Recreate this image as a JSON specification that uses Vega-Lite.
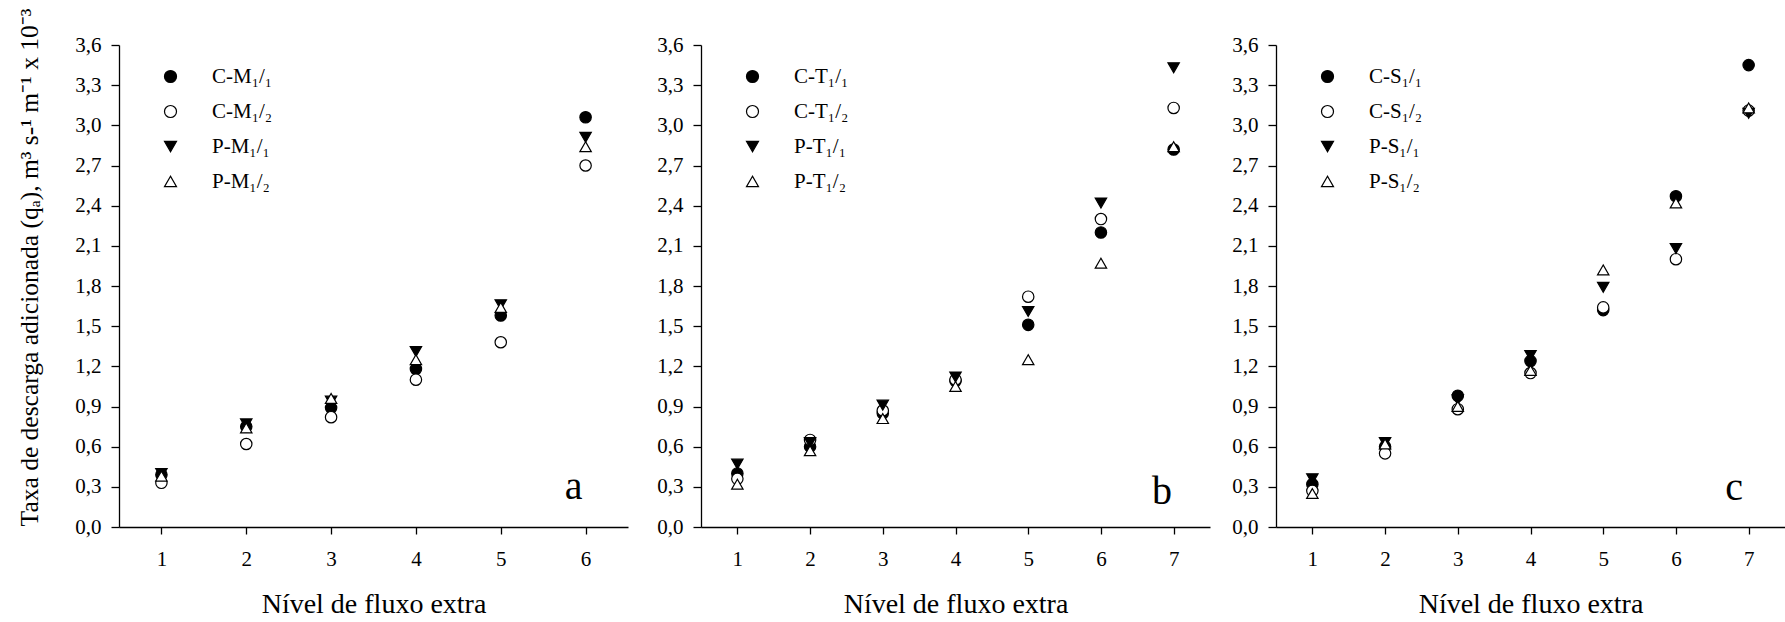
{
  "$schema": "https://vega.github.io/schema/vega-lite/v6.json",
  "background": "white",
  "autosize": {"type": "pad"},
  "padding": {"left": 16, "top": 8, "right": 0, "bottom": 0},
  "config": {
    "view": {"stroke": null},
    "font": "Liberation Serif",
    "axis": {
      "grid": false,
      "domainColor": "black",
      "domainWidth": 1.3,
      "tickColor": "black",
      "tickWidth": 1.3,
      "labelColor": "black",
      "titleColor": "black",
      "labelFont": "Liberation Serif",
      "titleFont": "Liberation Serif",
      "titleFontWeight": "normal",
      "labelFontSize": 21
    },
    "legend": {
      "labelFont": "Liberation Serif",
      "labelColor": "black"
    }
  },
  "datasets": {
    "a": [
      {"nivel": 1, "serie": "C-M₁/₁", "qa": 0.39},
      {"nivel": 2, "serie": "C-M₁/₁", "qa": 0.75},
      {"nivel": 3, "serie": "C-M₁/₁", "qa": 0.89},
      {"nivel": 4, "serie": "C-M₁/₁", "qa": 1.18},
      {"nivel": 5, "serie": "C-M₁/₁", "qa": 1.58},
      {"nivel": 6, "serie": "C-M₁/₁", "qa": 3.06},
      {"nivel": 1, "serie": "C-M₁/₂", "qa": 0.33},
      {"nivel": 2, "serie": "C-M₁/₂", "qa": 0.62},
      {"nivel": 3, "serie": "C-M₁/₂", "qa": 0.82},
      {"nivel": 4, "serie": "C-M₁/₂", "qa": 1.10},
      {"nivel": 5, "serie": "C-M₁/₂", "qa": 1.38},
      {"nivel": 6, "serie": "C-M₁/₂", "qa": 2.70},
      {"nivel": 1, "serie": "P-M₁/₁", "qa": 0.40},
      {"nivel": 2, "serie": "P-M₁/₁", "qa": 0.77},
      {"nivel": 3, "serie": "P-M₁/₁", "qa": 0.94},
      {"nivel": 4, "serie": "P-M₁/₁", "qa": 1.31},
      {"nivel": 5, "serie": "P-M₁/₁", "qa": 1.66},
      {"nivel": 6, "serie": "P-M₁/₁", "qa": 2.91},
      {"nivel": 1, "serie": "P-M₁/₂", "qa": 0.38},
      {"nivel": 2, "serie": "P-M₁/₂", "qa": 0.74},
      {"nivel": 3, "serie": "P-M₁/₂", "qa": 0.96},
      {"nivel": 4, "serie": "P-M₁/₂", "qa": 1.25},
      {"nivel": 5, "serie": "P-M₁/₂", "qa": 1.64},
      {"nivel": 6, "serie": "P-M₁/₂", "qa": 2.84}
    ],
    "b": [
      {"nivel": 1, "serie": "C-T₁/₁", "qa": 0.40},
      {"nivel": 2, "serie": "C-T₁/₁", "qa": 0.60},
      {"nivel": 3, "serie": "C-T₁/₁", "qa": 0.85},
      {"nivel": 4, "serie": "C-T₁/₁", "qa": 1.09},
      {"nivel": 5, "serie": "C-T₁/₁", "qa": 1.51},
      {"nivel": 6, "serie": "C-T₁/₁", "qa": 2.20},
      {"nivel": 7, "serie": "C-T₁/₁", "qa": 2.82},
      {"nivel": 1, "serie": "C-T₁/₂", "qa": 0.36},
      {"nivel": 2, "serie": "C-T₁/₂", "qa": 0.65},
      {"nivel": 3, "serie": "C-T₁/₂", "qa": 0.87},
      {"nivel": 4, "serie": "C-T₁/₂", "qa": 1.10},
      {"nivel": 5, "serie": "C-T₁/₂", "qa": 1.72},
      {"nivel": 6, "serie": "C-T₁/₂", "qa": 2.30},
      {"nivel": 7, "serie": "C-T₁/₂", "qa": 3.13},
      {"nivel": 1, "serie": "P-T₁/₁", "qa": 0.47},
      {"nivel": 2, "serie": "P-T₁/₁", "qa": 0.63},
      {"nivel": 3, "serie": "P-T₁/₁", "qa": 0.91},
      {"nivel": 4, "serie": "P-T₁/₁", "qa": 1.12},
      {"nivel": 5, "serie": "P-T₁/₁", "qa": 1.61},
      {"nivel": 6, "serie": "P-T₁/₁", "qa": 2.42},
      {"nivel": 7, "serie": "P-T₁/₁", "qa": 3.43},
      {"nivel": 1, "serie": "P-T₁/₂", "qa": 0.32},
      {"nivel": 2, "serie": "P-T₁/₂", "qa": 0.57},
      {"nivel": 3, "serie": "P-T₁/₂", "qa": 0.81},
      {"nivel": 4, "serie": "P-T₁/₂", "qa": 1.05},
      {"nivel": 5, "serie": "P-T₁/₂", "qa": 1.25},
      {"nivel": 6, "serie": "P-T₁/₂", "qa": 1.97},
      {"nivel": 7, "serie": "P-T₁/₂", "qa": 2.84}
    ],
    "c": [
      {"nivel": 1, "serie": "C-S₁/₁", "qa": 0.32},
      {"nivel": 2, "serie": "C-S₁/₁", "qa": 0.60},
      {"nivel": 3, "serie": "C-S₁/₁", "qa": 0.98},
      {"nivel": 4, "serie": "C-S₁/₁", "qa": 1.24},
      {"nivel": 5, "serie": "C-S₁/₁", "qa": 1.62},
      {"nivel": 6, "serie": "C-S₁/₁", "qa": 2.47},
      {"nivel": 7, "serie": "C-S₁/₁", "qa": 3.45},
      {"nivel": 1, "serie": "C-S₁/₂", "qa": 0.27},
      {"nivel": 2, "serie": "C-S₁/₂", "qa": 0.55},
      {"nivel": 3, "serie": "C-S₁/₂", "qa": 0.88},
      {"nivel": 4, "serie": "C-S₁/₂", "qa": 1.15},
      {"nivel": 5, "serie": "C-S₁/₂", "qa": 1.64},
      {"nivel": 6, "serie": "C-S₁/₂", "qa": 2.00},
      {"nivel": 7, "serie": "C-S₁/₂", "qa": 3.11},
      {"nivel": 1, "serie": "P-S₁/₁", "qa": 0.36},
      {"nivel": 2, "serie": "P-S₁/₁", "qa": 0.63},
      {"nivel": 3, "serie": "P-S₁/₁", "qa": 0.95},
      {"nivel": 4, "serie": "P-S₁/₁", "qa": 1.28},
      {"nivel": 5, "serie": "P-S₁/₁", "qa": 1.79},
      {"nivel": 6, "serie": "P-S₁/₁", "qa": 2.08},
      {"nivel": 7, "serie": "P-S₁/₁", "qa": 3.09},
      {"nivel": 1, "serie": "P-S₁/₂", "qa": 0.25},
      {"nivel": 2, "serie": "P-S₁/₂", "qa": 0.62},
      {"nivel": 3, "serie": "P-S₁/₂", "qa": 0.90},
      {"nivel": 4, "serie": "P-S₁/₂", "qa": 1.17},
      {"nivel": 5, "serie": "P-S₁/₂", "qa": 1.92},
      {"nivel": 6, "serie": "P-S₁/₂", "qa": 2.42},
      {"nivel": 7, "serie": "P-S₁/₂", "qa": 3.13}
    ]
  },
  "resolve": {
    "scale": {"x": "independent", "y": "independent", "shape": "independent", "fill": "independent", "stroke": "independent"},
    "legend": {"shape": "independent", "fill": "independent", "stroke": "independent"}
  },
  "spacing": 28,
  "hconcat": [
    {
      "width": 509,
      "height": 482,
      "layer": [
        {
          "data": {"name": "a"},
          "mark": {"type": "point", "filled": true, "size": 130, "strokeWidth": 1.2, "opacity": 1},
          "encoding": {
            "x": {"field": "nivel", "type": "quantitative", "scale": {"domain": [0.5, 6.5], "nice": false, "zero": false},
              "axis": {"values": [1, 2, 3, 4, 5, 6], "format": "d", "tickSize": 7, "labelPadding": 31, "labelBaseline": "alphabetic", "title": "Nível de fluxo extra", "titleFontSize": 28, "titleBaseline": "alphabetic", "titleY": 85}},
            "y": {"field": "qa", "type": "quantitative", "scale": {"domain": [0, 3.6], "nice": false},
              "axis": {"values": [0, 0.3, 0.6, 0.9, 1.2, 1.5, 1.8, 2.1, 2.4, 2.7, 3.0, 3.3, 3.6], "labelExpr": "replace(format(datum.value, '.1f'), '.', ',')", "tickSize": 8, "labelPadding": 10, "title": "Taxa de descarga adicionada (qₐ), m³ s-¹ m⁻¹ x 10⁻³", "titleFontSize": 25.5, "titleBaseline": "alphabetic", "titleAlign": "center", "titleX": -82, "titleY": 222}},
            "shape": {"field": "serie", "type": "nominal", "scale": {"domain": ["C-M₁/₁", "C-M₁/₂", "P-M₁/₁", "P-M₁/₂"], "range": ["circle", "circle", "triangle-down", "triangle-up"]},
              "legend": {"orient": "none", "legendX": 41, "legendY": 21, "title": null, "padding": 0, "symbolSize": 144, "labelFontSize": 21, "labelOffset": 31, "rowPadding": 13, "symbolStrokeWidth": 1.2}},
            "fill": {"field": "serie", "type": "nominal", "scale": {"domain": ["C-M₁/₁", "C-M₁/₂", "P-M₁/₁", "P-M₁/₂"], "range": ["black", "white", "black", "white"]},
              "legend": {"orient": "none", "legendX": 41, "legendY": 21, "title": null, "padding": 0, "symbolSize": 144, "labelFontSize": 21, "labelOffset": 31, "rowPadding": 13, "symbolStrokeWidth": 1.2}},
            "stroke": {"field": "serie", "type": "nominal", "scale": {"domain": ["C-M₁/₁", "C-M₁/₂", "P-M₁/₁", "P-M₁/₂"], "range": ["black", "black", "black", "black"]},
              "legend": {"orient": "none", "legendX": 41, "legendY": 21, "title": null, "padding": 0, "symbolSize": 144, "labelFontSize": 21, "labelOffset": 31, "rowPadding": 13, "symbolStrokeWidth": 1.2}}
          }
        },
        {
          "data": {"values": [{"letra": "a"}]},
          "mark": {"type": "text", "fontSize": 40, "fontWeight": "normal", "font": "Liberation Serif", "align": "center", "baseline": "alphabetic", "fill": "black"},
          "encoding": {
            "text": {"field": "letra", "type": "nominal"},
            "x": {"datum": 5.86, "type": "quantitative"},
            "y": {"datum": 0.21, "type": "quantitative"}
          }
        }
      ]
    },
    {
      "spacing": 21,
      "resolve": {
        "scale": {"x": "independent", "y": "independent", "shape": "independent", "fill": "independent", "stroke": "independent"},
        "legend": {"shape": "independent", "fill": "independent", "stroke": "independent"}
      },
      "hconcat": [
        {
          "width": 509,
          "height": 482,
          "layer": [
            {
              "data": {"name": "b"},
              "mark": {"type": "point", "filled": true, "size": 130, "strokeWidth": 1.2, "opacity": 1},
              "encoding": {
                "x": {"field": "nivel", "type": "quantitative", "scale": {"domain": [0.5, 7.5], "nice": false, "zero": false},
                  "axis": {"values": [1, 2, 3, 4, 5, 6, 7], "format": "d", "tickSize": 7, "labelPadding": 31, "labelBaseline": "alphabetic", "title": "Nível de fluxo extra", "titleFontSize": 28, "titleBaseline": "alphabetic", "titleY": 85}},
                "y": {"field": "qa", "type": "quantitative", "scale": {"domain": [0, 3.6], "nice": false},
                  "axis": {"values": [0, 0.3, 0.6, 0.9, 1.2, 1.5, 1.8, 2.1, 2.4, 2.7, 3.0, 3.3, 3.6], "labelExpr": "replace(format(datum.value, '.1f'), '.', ',')", "tickSize": 8, "labelPadding": 10, "title": null}},
                "shape": {"field": "serie", "type": "nominal", "scale": {"domain": ["C-T₁/₁", "C-T₁/₂", "P-T₁/₁", "P-T₁/₂"], "range": ["circle", "circle", "triangle-down", "triangle-up"]},
                  "legend": {"orient": "none", "legendX": 41, "legendY": 21, "title": null, "padding": 0, "symbolSize": 144, "labelFontSize": 21, "labelOffset": 31, "rowPadding": 13, "symbolStrokeWidth": 1.2}},
                "fill": {"field": "serie", "type": "nominal", "scale": {"domain": ["C-T₁/₁", "C-T₁/₂", "P-T₁/₁", "P-T₁/₂"], "range": ["black", "white", "black", "white"]},
                  "legend": {"orient": "none", "legendX": 41, "legendY": 21, "title": null, "padding": 0, "symbolSize": 144, "labelFontSize": 21, "labelOffset": 31, "rowPadding": 13, "symbolStrokeWidth": 1.2}},
                "stroke": {"field": "serie", "type": "nominal", "scale": {"domain": ["C-T₁/₁", "C-T₁/₂", "P-T₁/₁", "P-T₁/₂"], "range": ["black", "black", "black", "black"]},
                  "legend": {"orient": "none", "legendX": 41, "legendY": 21, "title": null, "padding": 0, "symbolSize": 144, "labelFontSize": 21, "labelOffset": 31, "rowPadding": 13, "symbolStrokeWidth": 1.2}}
              }
            },
            {
              "data": {"values": [{"letra": "b"}]},
              "mark": {"type": "text", "fontSize": 40, "fontWeight": "normal", "font": "Liberation Serif", "align": "center", "baseline": "alphabetic", "fill": "black"},
              "encoding": {
                "text": {"field": "letra", "type": "nominal"},
                "x": {"datum": 6.84, "type": "quantitative"},
                "y": {"datum": 0.17, "type": "quantitative"}
              }
            }
          ]
        },
        {
          "width": 509,
          "height": 482,
          "layer": [
            {
              "data": {"name": "c"},
              "mark": {"type": "point", "filled": true, "size": 130, "strokeWidth": 1.2, "opacity": 1},
              "encoding": {
                "x": {"field": "nivel", "type": "quantitative", "scale": {"domain": [0.5, 7.5], "nice": false, "zero": false},
                  "axis": {"values": [1, 2, 3, 4, 5, 6, 7], "format": "d", "tickSize": 7, "labelPadding": 31, "labelBaseline": "alphabetic", "title": "Nível de fluxo extra", "titleFontSize": 28, "titleBaseline": "alphabetic", "titleY": 85}},
                "y": {"field": "qa", "type": "quantitative", "scale": {"domain": [0, 3.6], "nice": false},
                  "axis": {"values": [0, 0.3, 0.6, 0.9, 1.2, 1.5, 1.8, 2.1, 2.4, 2.7, 3.0, 3.3, 3.6], "labelExpr": "replace(format(datum.value, '.1f'), '.', ',')", "tickSize": 8, "labelPadding": 10, "title": null}},
                "shape": {"field": "serie", "type": "nominal", "scale": {"domain": ["C-S₁/₁", "C-S₁/₂", "P-S₁/₁", "P-S₁/₂"], "range": ["circle", "circle", "triangle-down", "triangle-up"]},
                  "legend": {"orient": "none", "legendX": 41, "legendY": 21, "title": null, "padding": 0, "symbolSize": 144, "labelFontSize": 21, "labelOffset": 31, "rowPadding": 13, "symbolStrokeWidth": 1.2}},
                "fill": {"field": "serie", "type": "nominal", "scale": {"domain": ["C-S₁/₁", "C-S₁/₂", "P-S₁/₁", "P-S₁/₂"], "range": ["black", "white", "black", "white"]},
                  "legend": {"orient": "none", "legendX": 41, "legendY": 21, "title": null, "padding": 0, "symbolSize": 144, "labelFontSize": 21, "labelOffset": 31, "rowPadding": 13, "symbolStrokeWidth": 1.2}},
                "stroke": {"field": "serie", "type": "nominal", "scale": {"domain": ["C-S₁/₁", "C-S₁/₂", "P-S₁/₁", "P-S₁/₂"], "range": ["black", "black", "black", "black"]},
                  "legend": {"orient": "none", "legendX": 41, "legendY": 21, "title": null, "padding": 0, "symbolSize": 144, "labelFontSize": 21, "labelOffset": 31, "rowPadding": 13, "symbolStrokeWidth": 1.2}}
              }
            },
            {
              "data": {"values": [{"letra": "c"}]},
              "mark": {"type": "text", "fontSize": 40, "fontWeight": "normal", "font": "Liberation Serif", "align": "center", "baseline": "alphabetic", "fill": "black"},
              "encoding": {
                "text": {"field": "letra", "type": "nominal"},
                "x": {"datum": 6.8, "type": "quantitative"},
                "y": {"datum": 0.2, "type": "quantitative"}
              }
            }
          ]
        }
      ]
    }
  ]
}
